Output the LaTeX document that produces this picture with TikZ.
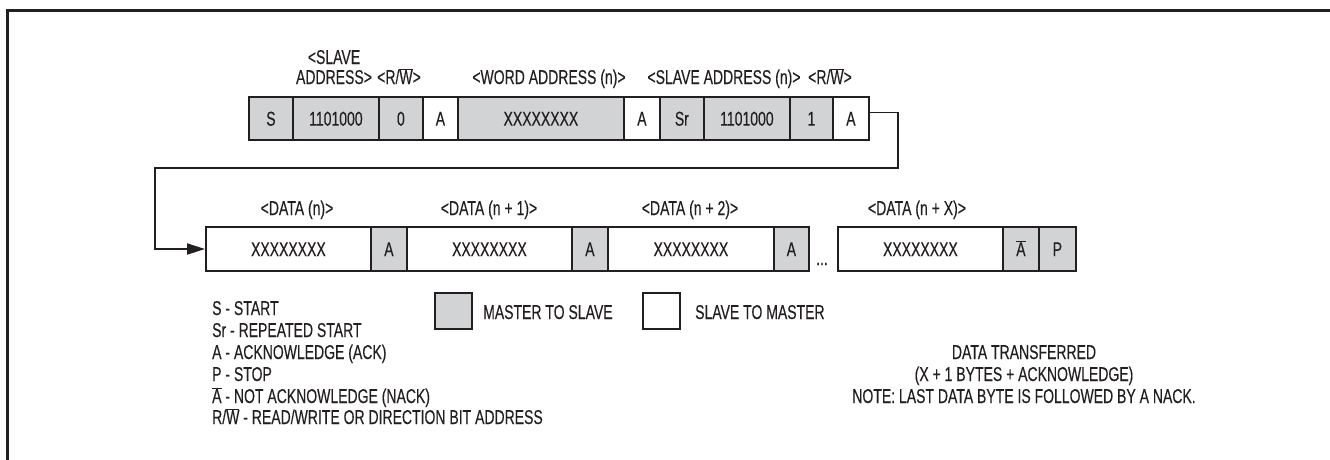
\documentclass[tikz,border=0pt]{standalone}
\usepackage{fontspec}
\setmainfont{Liberation Sans}[FakeStretch=0.70,FakeBold=0.25]
\usetikzlibrary{arrows.meta}
\definecolor{ink}{RGB}{35,31,32}
\definecolor{boxgray}{RGB}{209,211,212}
\newcommand{\ovl}[1]{$\overline{\hbox{#1}}$}
\tikzset{
  txt/.style={font=\fontsize{20}{24}\selectfont, text=ink, inner sep=0pt},
  lbl/.style={txt, anchor=base},
  lgd/.style={txt, anchor=base west},
  cell/.style={txt, draw=ink, line width=1.8pt, inner sep=0pt, anchor=west,
               text height=14.3pt, text depth=0pt},
  topcell/.style={cell, minimum height=43pt},
  datcell/.style={cell, minimum height=44pt},
  mfill/.style={fill=boxgray},
  sfill/.style={fill=white},
  conn/.style={draw=ink, line width=1.8pt},
  keybox/.style={draw=ink, line width=1.8pt, minimum width=37pt, minimum height=36pt, inner sep=0pt},
}
\begin{document}
\begin{tikzpicture}[x=1pt,y=-1pt]
\useasboundingbox (0,0) rectangle (1330,459);
\fill[white] (0,0) rectangle (1330,459);
\draw[ink, line width=3pt] (7.5,470) -- (7.5,10) -- (1340,10);

% top row
\node[topcell, mfill, minimum width=44pt] (s)   at (248,118.5) {S};
\node[topcell, mfill, minimum width=86pt] (sa1) at (292,118.5) {1101000};
\node[topcell, mfill, minimum width=44pt] (rw1) at (378,118.5) {0};
\node[topcell, sfill, minimum width=35pt] (a1)  at (422,118.5) {A};
\node[topcell, mfill, minimum width=166pt] (wa) at (457,118.5) {XXXXXXXX};
\node[topcell, sfill, minimum width=36pt] (a2)  at (623,118.5) {A};
\node[topcell, mfill, minimum width=44pt] (sr)  at (659,118.5) {Sr};
\node[topcell, mfill, minimum width=86pt] (sa2) at (703,118.5) {1101000};
\node[topcell, mfill, minimum width=43pt] (rw2) at (789,118.5) {1};
\node[topcell, sfill, minimum width=36pt] (a3)  at (832,118.5) {A};

% top labels
\node[lbl] (l1) at (334,64) {<SLAVE};
\node[lbl] (l2) at (334,84) {ADDRESS>};
\node[lbl] (l3) at (399,84) {<R/\ovl{W}>};
\node[lbl] (l4) at (549,84) {<WORD ADDRESS (n)>};
\node[lbl] (l5) at (724,84) {<SLAVE ADDRESS (n)>};
\node[lbl] (l6) at (830,84) {<R/\ovl{W}>};

% data row
\node[datcell, sfill, minimum width=165pt] (d1)  at (205,249) {XXXXXXXX};
\node[datcell, mfill, minimum width=36pt]  (da1) at (370,249) {A};
\node[datcell, sfill, minimum width=165pt] (d2)  at (406,249) {XXXXXXXX};
\node[datcell, mfill, minimum width=36pt]  (da2) at (571,249) {A};
\node[datcell, sfill, minimum width=166pt] (d3)  at (607,249) {XXXXXXXX};
\node[datcell, mfill, minimum width=35pt]  (da3) at (773,249) {A};
\node[lbl] (dots) at (822,265) {...};
\node[datcell, sfill, minimum width=165pt] (dx)  at (837,249) {XXXXXXXX};
\node[datcell, mfill, minimum width=36pt]  (nk)  at (1002,249) {\ovl{A}};
\node[datcell, mfill, minimum width=37pt]  (p)   at (1038,249) {P};

% data labels
\node[lbl] (dl1) at (297,215) {<DATA (n)>};
\node[lbl] (dl2) at (489,215) {<DATA (n + 1)>};
\node[lbl] (dl3) at (690,215) {<DATA (n + 2)>};
\node[lbl] (dl4) at (917,215) {<DATA (n + X)>};

% connector
\coordinate (c1) at (898,168);
\coordinate (c2) at (155,168);
\draw[conn, -{Triangle[length=18pt,width=11pt]}] ([yshift=6pt]a3.east) -| (c1) -- (c2) |- (d1.west);

% legend
\node[lgd] (k1) at (212,315) {S - START};
\node[lgd] (k2) at (212,337) {Sr - REPEATED START};
\node[lgd] (k3) at (212,359) {A - ACKNOWLEDGE (ACK)};
\node[lgd] (k4) at (212,381) {P - STOP};
\node[lgd] (k5) at (212,403) {\ovl{A} - NOT ACKNOWLEDGE (NACK)};
\node[lgd] (k6) at (212,424) {R/\ovl{W} - READ/WRITE OR DIRECTION BIT ADDRESS};

\node[keybox, fill=boxgray] (mk) at (453.5,311) {};
\node[lgd] (mkt) at (483,319) {MASTER TO SLAVE};
\node[keybox, fill=white] (sk) at (661.5,311) {};
\node[lgd] (skt) at (695,319) {SLAVE TO MASTER};

\node[lbl] (n1) at (1024,359) {DATA TRANSFERRED};
\node[lbl] (n2) at (1024,381) {(X + 1 BYTES + ACKNOWLEDGE)};
\node[lbl] (n3) at (1024,403) {NOTE: LAST DATA BYTE IS FOLLOWED BY A NACK.};
\end{tikzpicture}
\end{document}
